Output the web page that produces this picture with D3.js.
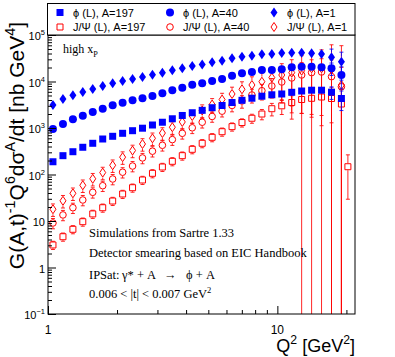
<!DOCTYPE html>
<html>
<head>
<meta charset="utf-8">
<script src="https://cdnjs.cloudflare.com/ajax/libs/d3/7.8.5/d3.min.js"></script>
<style>
  body { margin: 0; background: #fff; }
</style>
</head>
<body>
<div id="chart"></div>
<script>
// Q^2 bin centres [GeV^2] (30 log bins from 1 to 20)
var q2 = [1.051, 1.162, 1.284, 1.418, 1.567, 1.732, 1.914, 2.115, 2.337, 2.582,
          2.854, 3.153, 3.484, 3.850, 4.255, 4.702, 5.195, 5.741, 6.344, 7.010,
          7.746, 8.560, 9.459, 10.45, 11.55, 12.76, 14.10, 15.58, 17.22, 19.02];
// J/Psi A=197 has one extra point past the last bin
var q2PsiA197 = q2.concat([20.3]);

// G(A,t)^-1 Q^6 dsigma^A/dt [nb GeV^4]
var phiA197 = [188, 254, 309, 385, 469, 580, 663, 769, 875, 990,
               1160, 1330, 1580, 1860, 2130, 2400, 2730, 3050, 3530, 3940,
               4370, 4830, 5180, 5390, 5860, 6250, 6500, 6500, 5890, 4310];
var phiA40 = [950, 1220, 1540, 1840, 2210, 2600, 3080, 3500, 3940, 4350,
              4880, 5580, 6470, 7360, 8540, 9150, 10250, 11300, 13300, 15000,
              16000, 17700, 17700, 18300, 20200, 20800, 20800, 20200, 19200, 13800];
var phiA1 = [3130, 4210, 5050, 5950, 6900, 8000, 9150, 10250, 11300, 12500,
             14000, 15500, 17400, 19200, 21500, 23200, 25900, 28000, 31500, 34200,
             35900, 38400, 39000, 41000, 41600, 41600, 40400, 39000, 33200, 26700];
var psiA197 = [3.05, 4.59, 6.63, 9.66, 14.2, 19.3, 26.9, 38.1, 52, 76.2,
               106, 145, 192, 254, 348, 469, 631, 832, 1070, 1310,
               1620, 2000, 2600, 3000, 3530, 4100, 4350, 4640, 4310, 3280, 147];
var psiA40 = [9.06, 13.5, 19.3, 28.3, 41.4, 57.4, 80, 112, 152, 227,
              317, 425, 563, 769, 1010, 1330, 1770, 2300, 3050, 3810,
              5130, 6340, 8000, 9750, 11900, 13800, 15500, 16000, 12700, 7730];
var psiA1 = [17.9, 27.2, 39.4, 58.6, 80.9, 110, 158, 236, 328, 453,
             600, 780, 1040, 1350, 1810, 2380, 3200, 4100, 5390, 6800,
             8410, 9900, 12100, 13800, 15500, 17100, 19200, 19200, 18100, 8410];

// relative statistical errors
var errPhiA197 = [0.04, 0.04, 0.04, 0.04, 0.04, 0.04, 0.04, 0.04, 0.04, 0.04,
                  0.04, 0.04, 0.04, 0.04, 0.04, 0.04, 0.04, 0.04, 0.04, 0.04,
                  0.04, 0.04, 0.05, 0.06, 0.07, 0.08, 0.1, 0.15, 0.3, 0.45];
var errPhiA40 = [0.04, 0.04, 0.04, 0.04, 0.04, 0.04, 0.04, 0.04, 0.04, 0.04,
                 0.04, 0.04, 0.04, 0.04, 0.04, 0.04, 0.04, 0.04, 0.04, 0.04,
                 0.04, 0.04, 0.05, 0.06, 0.07, 0.08, 0.1, 0.15, 0.3, 0.5];
var errPhiA1 = [0.04, 0.04, 0.04, 0.04, 0.04, 0.04, 0.04, 0.04, 0.04, 0.04,
                0.04, 0.04, 0.04, 0.04, 0.04, 0.04, 0.04, 0.04, 0.04, 0.04,
                0.04, 0.04, 0.05, 0.06, 0.08, 0.1, 0.12, 0.2, 0.5, 0.6];
var errPsiA197 = [0.2, 0.2, 0.2, 0.2, 0.2, 0.2, 0.2, 0.2, 0.2, 0.2,
                  0.2, 0.2, 0.2, 0.2, 0.2, 0.2, 0.2, 0.2, 0.2, 0.2,
                  0.22, 0.25, 0.3, 0.35, 0.4, 0.5, 0.55, 0.6, 0.7, 1.1, 0.8];
var errPsiA40 = [0.25, 0.25, 0.25, 0.25, 0.25, 0.25, 0.25, 0.25, 0.25, 0.25,
                 0.25, 0.25, 0.25, 0.25, 0.25, 0.25, 0.25, 0.25, 0.27, 0.3,
                 0.33, 0.37, 0.45, 0.6, 0.75, 0.85, 0.89, 0.93, 1.3, 1.6];
var errPsiA1 = [0.3, 0.3, 0.3, 0.3, 0.3, 0.3, 0.3, 0.3, 0.3, 0.3,
                0.3, 0.3, 0.3, 0.3, 0.3, 0.32, 0.34, 0.36, 0.4, 0.45,
                0.5, 0.55, 0.62, 0.75, 0.9, 1.1, 1.3, 1.5, 2.4, 6.0];

var legendLabels = ['\u03D5 (L), A=197', '\u03D5 (L), A=40', '\u03D5 (L), A=1',
                    'J/\u03A8 (L), A=197', 'J/\u03A8 (L), A=40', 'J/\u03A8 (L), A=1'];
var yTickValues = [0.1, 1, 10, 100, 1000, 10000, 100000];
var yTickLabels = [['10', '\u22121'], ['1', ''], ['10', ''], ['10', '2'], ['10', '3'], ['10', '4'], ['10', '5']];
var xTickValues = [1, 10];
var xTickLabels = ['1', '10'];

var sans = "'Liberation Sans', Arial, Helvetica, sans-serif";
var serif = "'Liberation Serif', 'Times New Roman', serif";
var blue = '#0000ff', red = '#ff0000';

var width = 395, height = 357;
var frameL = 48, frameR = 355, frameT = 35, frameB = 314;

var x = d3.scaleLog().domain([1, 21.8]).range([frameL, frameR]);
var y = d3.scaleLog().domain([0.1, 1e5]).range([frameB, frameT]);

var svg = d3.select('#chart').append('svg')
    .attr('width', width)
    .attr('height', height)
    .style('font-family', sans);

svg.append('defs').append('clipPath').attr('id', 'plotclip')
    .append('rect')
    .attr('x', frameL).attr('y', frameT)
    .attr('width', frameR - frameL).attr('height', frameB - frameT);

// text with super/subscripts: parts = [[text, 'n'|'sup'|'sub'], ...]
function richText(sel, parts, size) {
    var cur = 0;
    parts.forEach(function(p) {
        var shift = p[1] === 'sup' ? -0.42 * size : (p[1] === 'sub' ? 0.3 * size : 0);
        sel.append('tspan')
            .attr('dy', shift - cur)
            .attr('font-size', p[1] === 'n' ? size : size * 0.68)
            .text(p[0]);
        cur = shift;
    });
    return sel;
}

function markerPath(shape, filled) {
    var p = d3.path();
    if (shape === 'square') {
        var s = filled ? 7 : 6;
        p.rect(-s / 2, -s / 2, s, s);
    } else if (shape === 'circle') {
        var r = filled ? 4 : 3.3;
        p.arc(0, 0, r, 0, 2 * Math.PI);
        p.closePath();
    } else {
        var w = filled ? 7 : 6, h = filled ? 10 : 9;
        p.moveTo(0, -h / 2); p.lineTo(w / 2, 0); p.lineTo(0, h / 2); p.lineTo(-w / 2, 0);
        p.closePath();
    }
    return p.toString();
}
function markerHalf(shape, filled) {
    if (shape === 'square') return 3.5;
    if (shape === 'circle') return filled ? 4 : 3.8;
    return 5;
}

var series = [
    {q: q2PsiA197, v: psiA197, e: errPsiA197, shape: 'square', color: red, filled: false},
    {q: q2, v: psiA40, e: errPsiA40, shape: 'circle', color: red, filled: false},
    {q: q2, v: psiA1, e: errPsiA1, shape: 'diamond', color: red, filled: false},
    {q: q2, v: phiA197, e: errPhiA197, shape: 'square', color: blue, filled: true},
    {q: q2, v: phiA40, e: errPhiA40, shape: 'circle', color: blue, filled: true},
    {q: q2, v: phiA1, e: errPhiA1, shape: 'diamond', color: blue, filled: true}
];

var plot = svg.append('g').attr('clip-path', 'url(#plotclip)');

series.forEach(function(s) {
    var pts = s.v.map(function(v, i) { return {q: s.q[i], v: v, e: s.e[i]}; });
    var half = markerHalf(s.shape, s.filled);
    var g = plot.append('g');

    var bars = g.selectAll('g.err').data(pts).enter().append('g').attr('class', 'err')
        .attr('stroke', s.color).attr('stroke-width', 1).attr('stroke-opacity', 0.85);
    bars.each(function(d) {
        var b = d3.select(this);
        var cx = x(d.q), cy = y(d.v);
        var yUp = y(d.v * (1 + d.e));
        var lo = d.v * (1 - d.e);
        var yLo = lo > 0 ? y(lo) : frameB + 5;
        if (yUp < cy - half) {
            b.append('line').attr('x1', cx).attr('x2', cx).attr('y1', cy - half).attr('y2', yUp);
            b.append('line').attr('x1', cx - 2).attr('x2', cx + 2).attr('y1', yUp).attr('y2', yUp);
        }
        if (yLo > cy + half) {
            b.append('line').attr('x1', cx).attr('x2', cx).attr('y1', cy + half).attr('y2', yLo);
            b.append('line').attr('x1', cx - 2).attr('x2', cx + 2).attr('y1', yLo).attr('y2', yLo);
        }
    });

    g.selectAll('path.mk').data(pts).enter().append('path').attr('class', 'mk')
        .attr('d', markerPath(s.shape, s.filled))
        .attr('transform', function(d) { return 'translate(' + x(d.q) + ',' + y(d.v) + ')'; })
        .attr('fill', s.filled ? s.color : 'none')
        .attr('stroke', s.filled ? 'none' : s.color)
        .attr('stroke-width', 1);
});

// axes, ROOT style: ticks pointing inward
var yMinor = [];
for (var d = -1; d < 5; d++) for (var k = 2; k < 10; k++) yMinor.push(k * Math.pow(10, d));
var xMinor = [2, 3, 4, 5, 6, 7, 8, 9, 20];

svg.append('g').attr('transform', 'translate(' + frameL + ',0)')
    .call(d3.axisLeft(y).tickValues(yMinor).tickSizeInner(-4).tickSizeOuter(0).tickFormat(''))
    .call(function(g) { g.select('.domain').remove(); });
svg.append('g').attr('transform', 'translate(' + frameL + ',0)')
    .call(d3.axisLeft(y).tickValues(yTickValues).tickSizeInner(-8).tickSizeOuter(0).tickFormat(''))
    .call(function(g) { g.select('.domain').remove(); });
svg.append('g').attr('transform', 'translate(0,' + frameB + ')')
    .call(d3.axisBottom(x).tickValues(xMinor).tickSizeInner(-4).tickSizeOuter(0).tickFormat(''))
    .call(function(g) { g.select('.domain').remove(); });
svg.append('g').attr('transform', 'translate(0,' + frameB + ')')
    .call(d3.axisBottom(x).tickValues(xTickValues).tickSizeInner(-8).tickSizeOuter(0).tickFormat(''))
    .call(function(g) { g.select('.domain').remove(); });

svg.append('rect')
    .attr('x', frameL).attr('y', frameT)
    .attr('width', frameR - frameL).attr('height', frameB - frameT)
    .attr('fill', 'none').attr('stroke', '#000').attr('stroke-width', 1);

yTickValues.forEach(function(v, i) {
    var lab = yTickLabels[i];
    var parts = [[lab[0], 'n']];
    if (lab[1]) parts.push([lab[1], 'sup']);
    var t = svg.append('text')
        .attr('x', 45).attr('y', y(v) + 5)
        .attr('text-anchor', 'end')
        .attr('font-size', 11);
    richText(t, parts, 11);
});

xTickValues.forEach(function(v, i) {
    svg.append('text')
        .attr('x', x(v)).attr('y', 334)
        .attr('text-anchor', 'middle')
        .attr('font-size', 12)
        .text(xTickLabels[i]);
});

// axis titles
richText(svg.append('text')
    .attr('x', frameR).attr('y', 352)
    .attr('text-anchor', 'end'),
    [['Q', 'n'], ['2', 'sup'], [' [GeV', 'n'], ['2', 'sup'], [']', 'n']], 18);

richText(svg.append('text')
    .attr('transform', 'translate(24,22) rotate(-90)')
    .attr('text-anchor', 'end'),
    [['G(A,t)', 'n'], ['-1', 'sup'], ['Q', 'n'], ['6', 'sup'], ['d\u03C3', 'n'], ['A', 'sup'],
     ['/dt  [nb GeV', 'n'], ['4', 'sup'], [']', 'n']], 21);

// legend
var legend = svg.append('g');
legend.append('rect')
    .attr('x', 47.5).attr('y', 3.5).attr('width', 307.5).attr('height', 31.5)
    .attr('fill', '#fff').attr('stroke', '#000').attr('stroke-width', 1);
var legendSeries = [series[3], series[4], series[5], series[0], series[1], series[2]];
var colX = [60, 170, 274], rowY = [12.5, 27];
legendSeries.forEach(function(s, i) {
    var cx = colX[i % 3], cy = rowY[Math.floor(i / 3)];
    legend.append('path')
        .attr('d', markerPath(s.shape, s.filled))
        .attr('transform', 'translate(' + cx + ',' + cy + ')')
        .attr('fill', s.filled ? s.color : 'none')
        .attr('stroke', s.filled ? 'none' : s.color);
    legend.append('text')
        .attr('x', cx + 13).attr('y', cy + 4)
        .attr('font-size', 11)
        .text(legendLabels[i]);
});

// annotations
var high = svg.append('text').attr('x', 63).attr('y', 53).attr('font-family', serif);
richText(high, [['high x', 'n'], ['P', 'sub']], 12);

var notes = svg.append('g').attr('font-family', serif).attr('font-size', 12.5);
notes.append('text').attr('x', 89).attr('y', 237).text('Simulations from Sartre 1.33');
notes.append('text').attr('x', 89).attr('y', 257).text('Detector smearing based on EIC Handbook');
var ips = notes.append('text').attr('y', 279);
ips.append('tspan').attr('x', 89).text('IPSat:');
ips.append('tspan').attr('x', 122).text('\u03B3* + A');
ips.append('tspan').attr('x', 164).text('\u2192');
ips.append('tspan').attr('x', 186).text('\u03D5 + A');
richText(notes.append('text').attr('x', 89).attr('y', 298),
    [['0.006 < |t| < 0.007 GeV', 'n'], ['2', 'sup']], 12.5);
</script>
</body>
</html>
